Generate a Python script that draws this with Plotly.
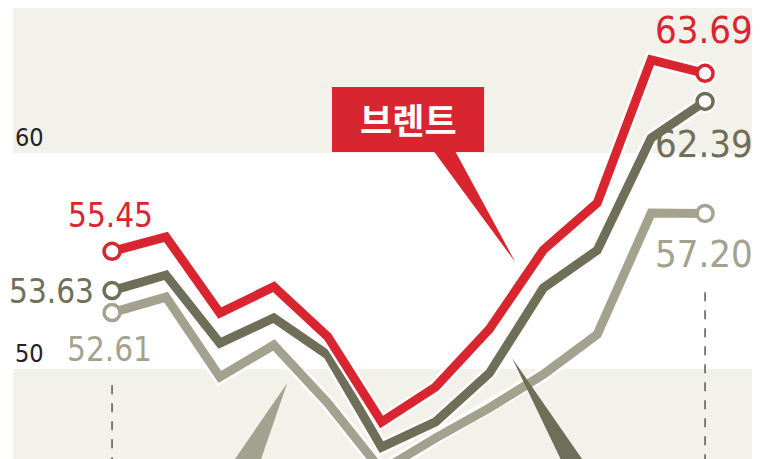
import plotly.graph_objects as go

# months from the first to the last point (index only, no axis labels shown)
months = list(range(12))

# crude oil prices, dollars per barrel
brent = [55.45, 56.12, 52.59, 53.81, 51.50, 47.55, 49.17, 51.85, 55.51, 57.69, 64.31, 63.69]
wti = [53.63, 54.35, 51.20, 52.36, 50.65, 46.38, 47.55, 49.81, 53.75, 55.50, 60.69, 62.39]
dubai = [52.61, 53.33, 49.63, 51.11, 48.43, 45.30, 46.80, 48.20, 49.75, 51.60, 57.22, 57.20]

y_ticks = [50, 60]

RED = "#d9252f"
DARK = "#6f6e58"
LIGHT = "#a3a28f"
CREAM = "#f3f2ea"
NUM_FONT = "Liberation Sans Narrow, DejaVu Sans Condensed, sans-serif"

fig = go.Figure()

# light first, red on top; each line gets a white casing underneath
for vals, color in [(dubai, LIGHT), (wti, DARK), (brent, RED)]:
    ends = [0, len(vals) - 1]
    fig.add_trace(go.Scatter(x=months, y=vals, mode="lines",
                             line=dict(color="white", width=14), hoverinfo="skip"))
    fig.add_trace(go.Scatter(x=[months[i] for i in ends], y=[vals[i] for i in ends], mode="markers",
                             marker=dict(size=24, color="white"), hoverinfo="skip"))
    fig.add_trace(go.Scatter(x=months, y=vals, mode="lines",
                             line=dict(color=color, width=9)))
    fig.add_trace(go.Scatter(x=[months[i] for i in ends], y=[vals[i] for i in ends], mode="markers",
                             marker=dict(size=16, color="white", line=dict(color=color, width=3.5))))

# background bands
shapes = [
    dict(type="rect", xref="paper", yref="y", x0=0.0065, x1=0.9725, y0=60, y1=70,
         fillcolor=CREAM, line_width=0, layer="below"),
    dict(type="rect", xref="paper", yref="y", x0=0.0065, x1=0.9725, y0=40, y1=50,
         fillcolor=CREAM, line_width=0, layer="below"),
    # dashed markers under the first and last month
    dict(type="line", x0=months[0], x1=months[0], y0=49.25, y1=44,
         line=dict(color="#555555", width=1.5, dash="dash")),
    dict(type="line", x0=months[-1], x1=months[-1], y0=53.55, y1=44,
         line=dict(color="#555555", width=1.5, dash="dash")),
    # brent callout box and pointer
    dict(type="rect", x0=4.08, x1=6.90, y0=60.05, y1=63.06, fillcolor=RED, line_width=0),
    dict(type="path", path="M 5.96 60.1 L 6.36 60.1 L 7.48 54.95 Z", fillcolor=RED, line_width=0),
    # pointers to the other callouts (below the crop)
    dict(type="path", path="M 3.25 49.35 L 2.65 45.0 L 2.05 45.0 Z", fillcolor=LIGHT, line_width=0),
    dict(type="path", path="M 7.42 50.51 L 8.95 45.0 L 8.48 45.0 Z", fillcolor=DARK, line_width=0),
]

annotations = [
    dict(x=5.49, y=61.6, text="<b>브렌트</b>", showarrow=False,
         font=dict(family="Noto Sans CJK KR", size=35, color="white")),
    dict(x=-0.02, y=57.1, text="55.45", showarrow=False, font=dict(family=NUM_FONT, size=33, color=RED)),
    dict(x=-0.30, y=53.6, text="53.63", showarrow=False, xanchor="right",
         font=dict(family=NUM_FONT, size=33, color=DARK)),
    dict(x=-0.04, y=50.9, text="52.61", showarrow=False, font=dict(family=NUM_FONT, size=33, color=LIGHT)),
    dict(x=10.98, y=65.7, text="63.69", showarrow=False, font=dict(family=NUM_FONT, size=38, color=RED)),
    dict(x=10.98, y=60.42, text="62.39", showarrow=False, font=dict(family=NUM_FONT, size=38, color=DARK)),
    dict(x=10.98, y=55.32, text="57.20", showarrow=False, font=dict(family=NUM_FONT, size=38, color=LIGHT)),
]
for t in y_ticks:
    annotations.append(dict(xref="paper", x=0.0065, y=t - 0.05, text=str(t), showarrow=False,
                            xanchor="left", yanchor="bottom",
                            font=dict(family=NUM_FONT, size=25, color="#222222")))

# the page adds an 8px body margin, so the ranges are offset to compensate
fig.update_layout(
    width=765, height=459,
    margin=dict(l=0, r=0, t=0, b=0),
    paper_bgcolor="white", plot_bgcolor="white",
    showlegend=False,
    shapes=shapes, annotations=annotations,
    xaxis=dict(range=[-1.93, 12.26], visible=False, fixedrange=True),
    yaxis=dict(range=[45.463, 66.713], visible=False, fixedrange=True),
)

fig.write_html("out.html")
